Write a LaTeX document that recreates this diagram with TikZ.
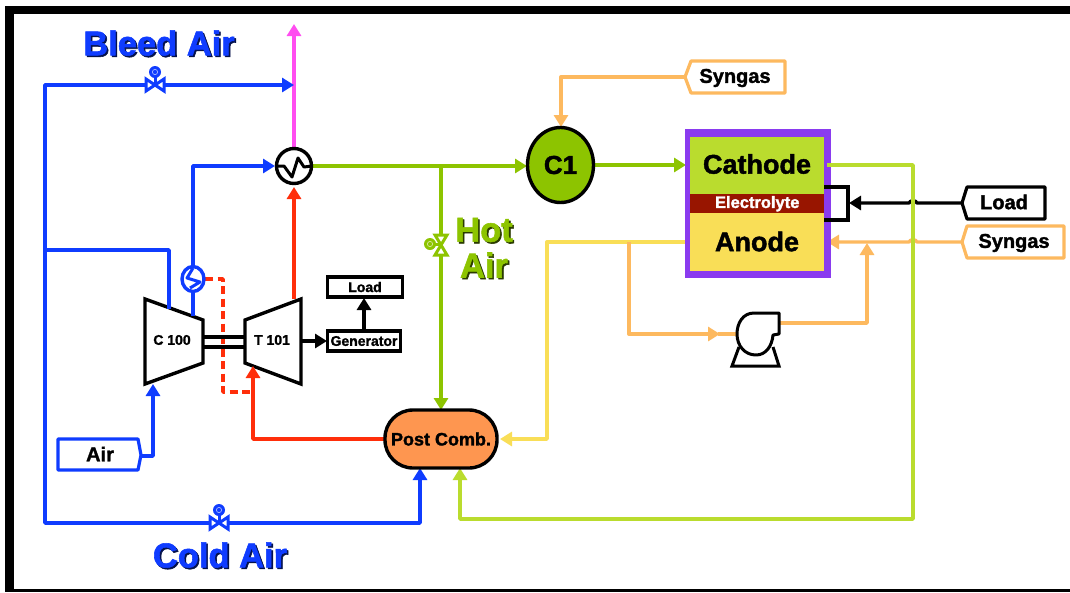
\documentclass[tikz,border=0pt]{standalone}
\usepackage{fontspec}
\setmainfont{Liberation Sans}
\newfontface\heavy[FakeBold=1.6]{Liberation Sans Bold}
\usetikzlibrary{arrows.meta,shapes.geometric,calc}
\definecolor{cblue}{HTML}{0F3CFF}
\definecolor{cgreen}{HTML}{8DC400}
\definecolor{clime}{HTML}{BADC2E}
\definecolor{cyel}{HTML}{F9DE57}
\definecolor{corange}{HTML}{FDB95F}
\definecolor{cred}{HTML}{FF2E0A}
\definecolor{cmag}{HTML}{FF4DF0}
\definecolor{cpurple}{HTML}{8A3BEF}
\definecolor{cdred}{HTML}{981500}
\definecolor{cpc}{HTML}{FE9650}
\tikzset{
 x=1pt,y=-1pt,
 pipe/.style={line width=3.4pt,line join=round},
 arr/.style={pipe,-{Triangle[length=12pt,width=14pt]}},
 equip/.style={draw=black,line width=3.4pt,fill=white,line join=miter},
 big/.style={font=\heavy\fontsize{34.5}{35}\selectfont,inner sep=0pt},
 tag/.style={inner sep=0pt,font=\heavy\fontsize{20}{21}\selectfont},
 box/.style={draw=black,line width=3.2pt,fill=white,inner sep=0pt,font=\heavy\fontsize{14}{16}\selectfont},
 taglin/.style={draw=#1,line width=3.2pt,fill=white,line join=round},
}
\begin{document}
\begin{tikzpicture}
\useasboundingbox (0,0) rectangle (1070,592);
\fill[white] (0,0) rectangle (1070,592);
% frame
\fill[black] (5,6) rectangle (1070,14);
\fill[black] (5,6) rectangle (14,592);
\fill[black] (14,589) rectangle (1070,592);

% equipment
\draw[equip] (145,299) -- (203,320) -- (203,363) -- (145,384) -- cycle;
\draw[equip] (301,299) -- (245,320) -- (245,363) -- (301,384) -- cycle;
\node[inner sep=0pt,font=\heavy\fontsize{14}{14}\selectfont] (c100) at (172,340) {C 100};
\node[inner sep=0pt,font=\heavy\fontsize{14}{14}\selectfont] (t101) at (272,340) {T 101};

\node[box,minimum width=75pt,minimum height=20pt] (load1) at (365,287) {Load};
\node[box,minimum width=73pt,minimum height=20pt] (gen) at (364,341) {Generator};

% coordinates
\coordinate (v3) at (441,244);
\coordinate (hxt) at (294,167);
\coordinate (jm) at (294,85);
\coordinate (pcT) at (441,410);
\coordinate (pcBl) at (420,468);
\coordinate (pcBr) at (460,468);

% magenta
\draw[arr,cmag] (hxt) -- (294,24);
% blue
\draw[arr,cblue] (45,250) -- (45,85) -- (jm);
\draw[pipe,cblue] (45,250) -- (169,250) -- (169,309);
\draw[arr,cblue] (45,250) -- (45,523) -- (420,523) -- (pcBl);
\draw[pipe,cblue] (193,316) -- (193,279);
\draw[arr,cblue] (193,279) -- (193,166) -- (275,166);
\draw[arr,cblue] (140,456) -- (153,456) -- (153,384);
% red
\draw[arr,cred] (294,299) -- (294,187);
\draw[arr,cred] (386,439) -- (253,439) -- (253,366);
\draw[pipe,cred,dash pattern=on 8pt off 4.5pt] (205,279) -- (223,279) -- (223,392) -- (253,392);
\draw[black,line width=3.6pt] (203,337) -- (245,337) (203,347) -- (245,347);
% green
\draw[arr,cgreen] (313,166) -- (527,166);
\draw[arr,cgreen] (441,166) -- (pcT);
\draw[arr,cgreen] (594,165) -- (686,165);
% yellow
\draw[arr,cyel] (686,242) -- (547,242) -- (547,439) -- (500,439);
% orange
\draw[arr,corange] (629,242) -- (629,334) -- (720,334);
\draw[pipe,corange] (718,334) -- (736,334);
\draw[arr,corange] (780,323) -- (867,323) -- (867,243);
\draw[arr,corange] (962,242) -- (917,242) .. controls (916,239) and (910,239) .. (909,242) -- (827,242);
\draw[arr,corange] (685,77) -- (561,77) -- (561,127);
% black connectors
\draw[arr,black] (962,203) -- (917,203) .. controls (916,200) and (910,200) .. (909,203) -- (849,203);
\draw[arr,black] (302,341) -- (327,341);
\draw[arr,black] (364,331) -- (364,298);
% lime
\draw[arr,clime] (827,165) -- (913,165) -- (913,519) -- (460,519) -- (pcBr);

% heat exchangers
\node[circle,draw=black,line width=3.4pt,fill=white,minimum size=35pt,inner sep=0pt] (hx) at (294,166) {};
\draw[pipe,black,line width=3pt] (277,166) -- (284,166) -- (292,177) -- (298,158) -- (304,167) -- (312,166);
\node[ellipse,draw=cblue,line width=3.4pt,fill=white,minimum width=22pt,minimum height=25pt,inner sep=0pt] (ic) at (193,279) {};
\draw[pipe,cblue,line width=3pt] (193,268) -- (187,278) -- (200,282) -- (190,288);

% C1
\node[ellipse,draw=black,line width=3.4pt,fill=cgreen,minimum width=66pt,minimum height=75pt,inner sep=0pt,font=\heavy\fontsize{26}{26}\selectfont] (c1) at (560.5,165) {C1};

% Post comb
\node[draw=black,line width=3.4pt,fill=cpc,rounded corners=28pt,minimum width=112pt,minimum height=58pt,inner sep=0pt,font=\heavy\fontsize{18}{18}\selectfont] (pc) at (441,439) {Post Comb.};

% fuel cell
\fill[cpurple] (685,129) rectangle (831,278);
\node[fill=clime,minimum width=134pt,minimum height=57pt,inner sep=0pt,anchor=north west] (cath) at (690,137) {};
\node[font=\heavy\fontsize{27}{27}\selectfont,inner sep=0pt] (cathl) at (757,164) {Cathode};
\node[fill=cdred,text=white,minimum width=134pt,minimum height=19pt,inner sep=0pt,anchor=north west,font=\heavy\fontsize{16.5}{17}\selectfont] (elec) at (690,194) {Electrolyte};
\node[fill=cyel,minimum width=134pt,minimum height=58pt,inner sep=0pt,anchor=north west] (an) at (690,213) {};
\node[font=\heavy\fontsize{27}{27}\selectfont,inner sep=0pt] (anl) at (757,241.5) {Anode};
\draw[pipe,black,line join=miter] (824,187) -- (848,187) -- (848,220) -- (824,220);
\draw[pipe,clime] (827,165) -- (832,165);

% tags
\draw[taglin=corange] (785,61) -- (691,61) -- (685,77) -- (691,93) -- (785,93) -- cycle;
\node[tag] (sg1) at (735,78) {Syngas};
\draw[taglin=black] (1045,187) -- (967,187) -- (962,203) -- (967,219) -- (1045,219) -- cycle;
\node[tag] (load2) at (1004,202) {Load};
\draw[taglin=corange] (1064,226) -- (967,226) -- (962,242) -- (967,258) -- (1064,258) -- cycle;
\node[tag] (sg2) at (1014,243) {Syngas};
\draw[taglin=cblue] (58,439) -- (138,439) -- (141,455) -- (138,470) -- (58,470) -- cycle;
\node[tag] (air) at (100,454) {Air};

% pump
\draw[black,line width=3pt,fill=white,line join=miter] (739,347) -- (732,366) -- (779,366) -- (773,347);
\draw[black,line width=3pt,fill=white,line join=round] (779,313) -- (754,313) .. controls (743,313) and (737,323) .. (737,334) .. controls (737,346) and (745,355) .. (756,355) .. controls (766,355) and (772,346) .. (773,335) -- (779,334) -- cycle;

% valves
\foreach \X/\Y/\C in {155/85/cblue,219/523/cblue}{
 \draw[draw=\C,line width=3pt,fill=white,line join=miter] (\X-9,\Y-6) -- (\X+9,\Y+6) -- (\X+9,\Y-6) -- (\X-9,\Y+6) -- cycle;
 \draw[\C,line width=3pt] (\X,\Y) -- (\X,\Y-9);
 \fill[\C] (\X,\Y-13) circle (6pt);
 \draw[white!70!\C,line width=.6pt] (\X,\Y-13) circle (2.6pt);
}
\draw[draw=cgreen,line width=3pt,fill=white,line join=miter] (435,235) -- (447,255) -- (435,255) -- (447,235) -- cycle;
\draw[cgreen,line width=3pt] (v3) -- (432,244);
\fill[cgreen] (430,244) circle (6pt);
\draw[white!70!cgreen,line width=.6pt] (430,244) circle (2.6pt);

% titles
\foreach \D/\C in {1.6/black!70!cblue,0/cblue}{
 \node[big,text=\C] at (159+\D,43+\D) {Bleed Air};
 \node[big,text=\C] at (220+\D,555+\D) {Cold Air};
}
\foreach \D/\C in {1.6/black!70!cgreen,0/cgreen}{
 \node[big,text=\C] at (484+\D,230+\D) {Hot};
 \node[big,text=\C] at (484+\D,265+\D) {Air};
}
\end{tikzpicture}
\end{document}
